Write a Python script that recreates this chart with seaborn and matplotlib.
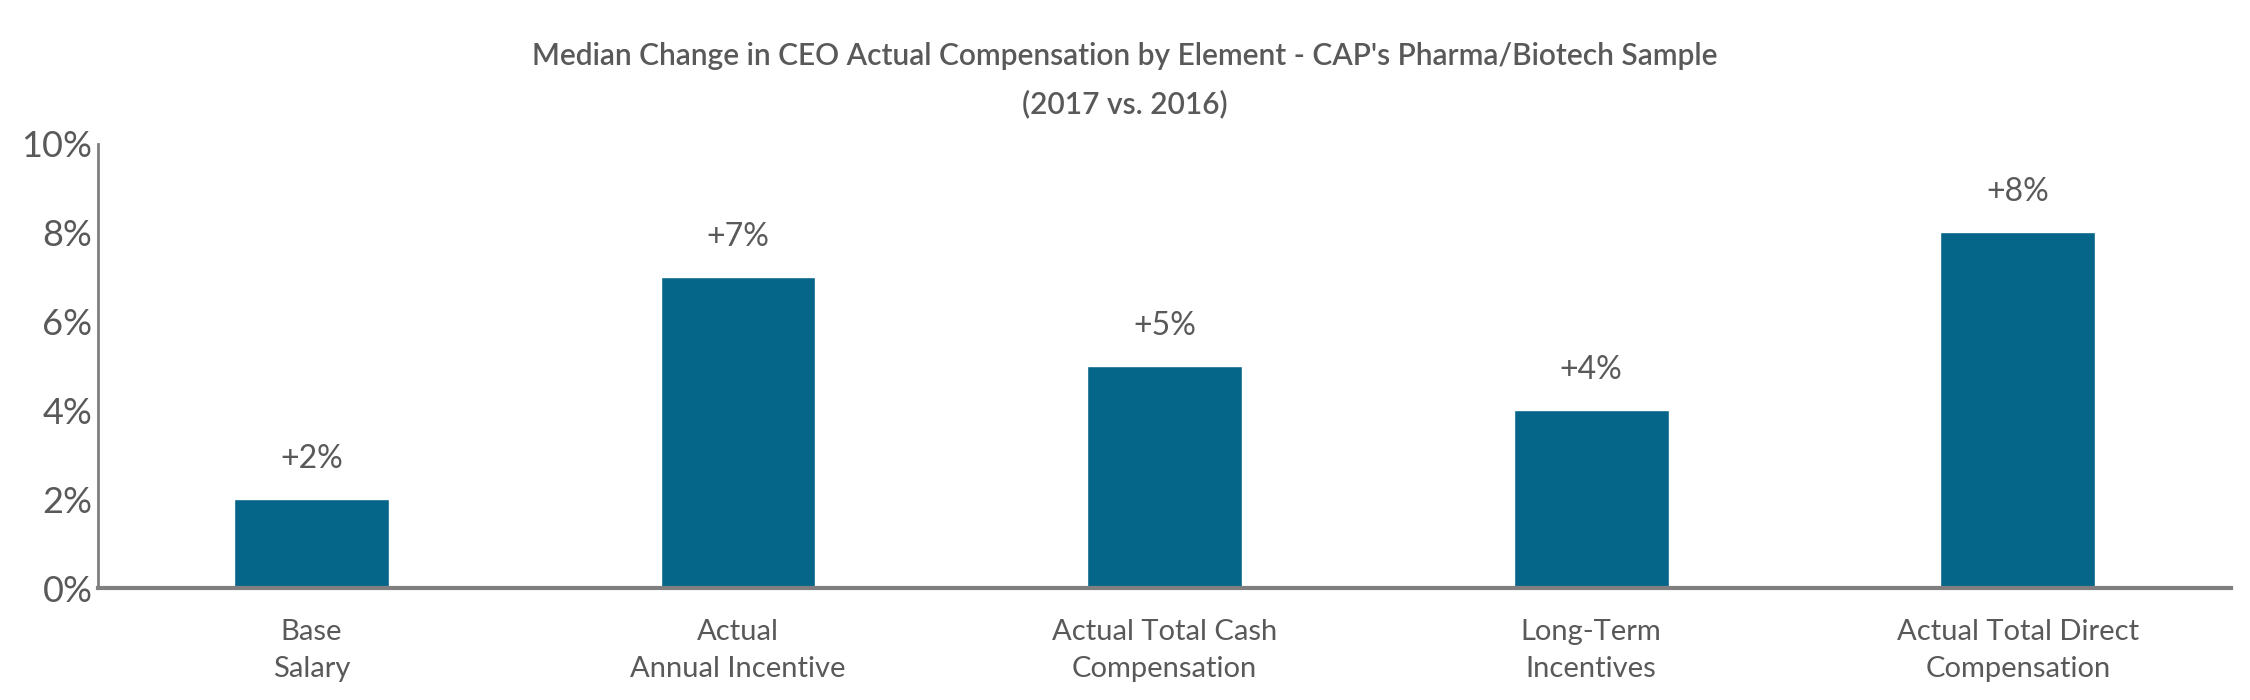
import matplotlib
matplotlib.use("Agg")
import matplotlib.pyplot as plt
import seaborn as sns
import pandas as pd
from matplotlib.ticker import FuncFormatter

# data
categories = ["Base\nSalary", "Actual\nAnnual Incentive", "Actual Total Cash\nCompensation",
              "Long-Term\nIncentives", "Actual Total Direct\nCompensation"]
changes = [2, 7, 5, 4, 8]
labels = ["+2%", "+7%", "+5%", "+4%", "+8%"]
yticks = [0, 2, 4, 6, 8, 10]

df = pd.DataFrame({"element": categories, "change": changes})

sns.set_style("white")
plt.rcParams["font.family"] = ["Lato", "DejaVu Sans"]

bar_color = "#05668a"
grey = "#595959"

fig = plt.figure(figsize=(22.5, 7), dpi=100)
ax = fig.add_axes([0.0436, 0.16, 0.948, 0.635])

sns.barplot(data=df, x="element", y="change", color=bar_color, width=0.363,
            saturation=1, ax=ax)

for i, (v, lab) in enumerate(zip(changes, labels)):
    ax.annotate(lab, (i, v), xytext=(0, 18), textcoords="offset points",
                ha="center", va="bottom", fontsize=23, color=grey)

ax.set_ylim(0, 10)
ax.set_xlim(-0.5, 4.5)
ax.set_yticks(yticks)
ax.yaxis.set_major_formatter(FuncFormatter(lambda v, p: f"{v:.0f}%"))
ax.set_xlabel("")
ax.set_ylabel("")
ax.tick_params(axis="both", length=0, labelcolor=grey)
ax.tick_params(axis="x", pad=22, labelsize=21)
ax.tick_params(axis="y", pad=4, labelsize=26)
for t in ax.get_xticklabels():
    t.set_linespacing(1.55)

sns.despine(ax=ax)
ax.spines["left"].set_color("#7f7f7f")
ax.spines["left"].set_linewidth(2)
ax.spines["bottom"].set_color("#7f7f7f")
ax.spines["bottom"].set_linewidth(3)

fig.suptitle("Median Change in CEO Actual Compensation by Element - CAP's Pharma/Biotech Sample\n(2017 vs. 2016)",
             x=0.5, y=0.94, fontsize=21.5, color=grey, fontweight="semibold", linespacing=1.8)

fig.savefig("out.png", dpi=100)
